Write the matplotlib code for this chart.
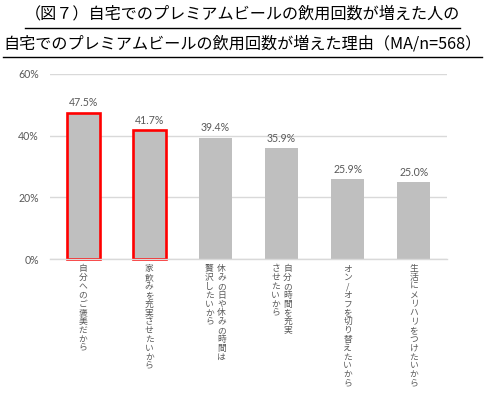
import matplotlib
matplotlib.use("Agg")
import matplotlib.pyplot as plt
from matplotlib.lines import Line2D
from matplotlib import transforms

# data
title_lines = ["（図７）自宅でのプレミアムビールの飲用回数が増えた人の",
               "自宅でのプレミアムビールの飲用回数が増えた理由（MA/n=568）"]
# each label as vertical columns, right column first (tategaki)
label_columns = [
    ["自分へのご褒美だから"],
    ["家飲みを充実させたいから"],
    ["休みの日や休みの時間は", "贅沢したいから"],
    ["自分の時間を充実", "させたいから"],
    ["オン/オフを切り替えたいから"],
    ["生活にメリハリをつけたいから"],
]
values = [47.5, 41.7, 39.4, 35.9, 25.9, 25.0]
highlight = [True, True, False, False, False, False]
yticks = [0, 20, 40, 60]

JP = ["Noto Sans CJK JP", "DejaVu Sans"]
NUM = ["Lato", "DejaVu Sans"]
GREY_TXT = "#595959"

fig = plt.figure(figsize=(4.85, 3.94), dpi=100)
ax = fig.add_axes([50 / 485, 1 - 259 / 394, 397 / 485, 185 / 394])

x = list(range(len(values)))
bars = ax.bar(x, values, width=0.5, color="#BFBFBF", zorder=2)
for b, h in zip(bars, highlight):
    if h:
        b.set_edgecolor("#FF0000")
        b.set_linewidth(1.9)
        b.set_clip_on(False)

for xi, v in zip(x, values):
    ax.annotate(f"{v:.1f}%", xy=(xi, v), xytext=(0, 3), textcoords="offset points",
                ha="center", va="bottom", fontsize=7.6, color=GREY_TXT, family=NUM)

ax.set_xlim(-0.5, len(values) - 0.5)
ax.set_ylim(0, 60)
ax.set_yticks(yticks)
ax.set_yticklabels([f"{t}%" for t in yticks], fontsize=7.6, color=GREY_TXT, family=NUM)
ax.set_xticks([])
ax.tick_params(axis="y", length=0, pad=8)
ax.grid(axis="y", color="#D9D9D9", linewidth=1, zorder=0)
for s in ["top", "right", "left"]:
    ax.spines[s].set_visible(False)
ax.spines["bottom"].set_color("#D9D9D9")
ax.spines["bottom"].set_linewidth(1)

# vertical category labels, one character at a time
trans = transforms.blended_transform_factory(ax.transData, ax.transAxes)
pitch = 8.8  # pixels per character
for xi, cols in zip(x, label_columns):
    n = len(cols)
    for ci, col in enumerate(cols):
        dx = 6 - 12 * ci if n == 2 else 0
        for k, ch in enumerate(col):
            ax.annotate(ch, xy=(xi, 0), xycoords=trans,
                        xytext=(dx, -10 - k * pitch), textcoords="offset pixels",
                        ha="center", va="center", fontsize=6.3,
                        color=GREY_TXT, family=JP, annotation_clip=False)

# title with underline
title_y = [1 - 14 / 394, 1 - 44 / 394]
underline_y = [28, 57]
texts = []
for t, ty in zip(title_lines, title_y):
    texts.append(fig.text(0.5, ty, t, ha="center", va="center",
                          fontsize=11.6, color="black", family=JP))
fig.canvas.draw()
r = fig.canvas.get_renderer()
for t, uy in zip(texts, underline_y):
    bb = t.get_window_extent(r)
    yy = 1 - uy / 394
    fig.add_artist(Line2D([bb.x0 / 485, bb.x1 / 485], [yy, yy],
                          transform=fig.transFigure, color="black", linewidth=1))

fig.savefig("out.png", dpi=100)
